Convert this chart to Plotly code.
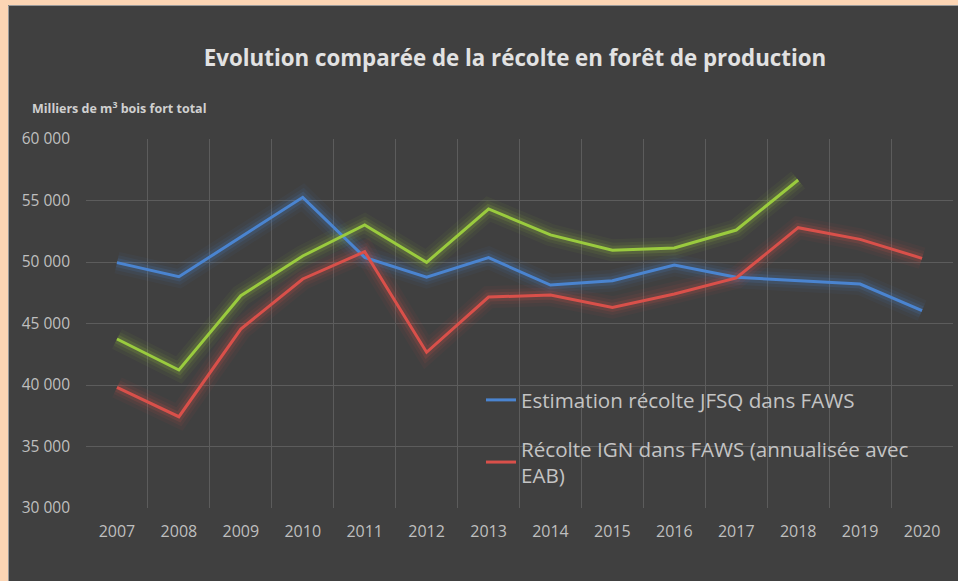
import plotly.graph_objects as go

years = ["2007", "2008", "2009", "2010", "2011", "2012", "2013", "2014",
         "2015", "2016", "2017", "2018", "2019", "2020"]
jfsq = [49950, 48800, 52030, 55260, 50380, 48760, 50350, 48130,
        48480, 49760, 48760, 48480, 48210, 46040]
ign = [39810, 37420, 44550, 48620, 50840, 42660, 47150, 47310,
       46310, 47400, 48700, 52790, 51840, 50300]
green_years = years[:12]
green_vals = [43740, 41220, 47260, 50490, 53010, 49970, 54310, 52200,
              50950, 51140, 52600, 56670]

title_text = "Evolution comparée de la récolte en forêt de production"
ylabel_text = "Milliers de m<sup>3</sup> bois fort total"
name_jfsq = "Estimation récolte JFSQ dans FAWS"
name_ign = "Récolte IGN dans FAWS (annualisée avec<br>EAB)"

BLUE = "#4A84D0"
RED = "#D9504A"
GREEN = "#9ACB3E"
FONT = "Open Sans"

fig = go.Figure()

series = [
    (years, jfsq, BLUE, name_jfsq, True, "g1"),
    (years, ign, RED, name_ign, True, "g2"),
    (green_years, green_vals, GREEN, "Récolte", False, "g3"),
]

# glow layers
for xs, ys, col, name, show, grp in series:
    for w, op in [(22, 0.05), (15, 0.08), (9, 0.15)]:
        fig.add_trace(go.Scatter(x=xs, y=ys, mode="lines",
                                 line=dict(color=col, width=w),
                                 opacity=op, showlegend=False,
                                 hoverinfo="skip", legendgroup=grp))
# main lines
for xs, ys, col, name, show, grp in series:
    fig.add_trace(go.Scatter(x=xs, y=ys, mode="lines", name=name,
                             line=dict(color=col, width=3),
                             showlegend=show, legendgroup=grp))

fig.update_layout(
    width=958, height=581,
    margin=dict(l=86, r=5, t=139, b=73),
    paper_bgcolor="#404040",
    plot_bgcolor="#404040",
    separators=", ",
    font=dict(family=FONT, color="#BFBFBF"),
    title=dict(text="<b>" + title_text + "</b>", x=515 / 958, xanchor="center",
               y=1 - 58 / 581, yanchor="middle",
               font=dict(family=FONT, size=22.3, color="#E2E2E2")),
    xaxis=dict(type="category", tickson="boundaries", showgrid=True,
               gridcolor="#5C5C5C", gridwidth=1, ticks="", zeroline=False,
               showline=False, tickfont=dict(size=16, color="#BFBFBF"),
               range=[-0.5, 13.5], ticklabelstandoff=12),
    yaxis=dict(range=[30000, 60000], dtick=5000, tick0=30000,
               tickformat=",d", showgrid=True, gridcolor="#5C5C5C",
               gridwidth=1, zeroline=False, showline=False, ticks="",
               tickfont=dict(size=15.5, color="#BFBFBF"), ticklabelstandoff=15),
    legend=dict(x=(481 - 86) / 867, y=(508 - 380) / 369, xanchor="left",
                yanchor="top", bgcolor="rgba(0,0,0,0)",
                font=dict(family=FONT, size=20.6, color="#C4C4C4"),
                tracegroupgap=19, traceorder="grouped"),
    showlegend=True,
)

# y-axis caption
fig.add_annotation(text="<b>" + ylabel_text + "</b>", xref="paper", yref="paper",
                   x=(30 - 86) / 867, y=(508 - 108) / 369, xanchor="left",
                   yanchor="middle", showarrow=False,
                   font=dict(family=FONT, size=12.5, color="#D0D0D0"))

# peach outer border (left and top strips)
PEACH = "#FCD5B4"
fig.add_shape(type="rect", xref="paper", yref="paper",
              x0=(0 - 86) / 867, x1=(8 - 86) / 867, y0=(508 - 581) / 369,
              y1=(508 - 0) / 369, fillcolor=PEACH, line=dict(width=0))
fig.add_shape(type="rect", xref="paper", yref="paper",
              x0=(0 - 86) / 867, x1=(958 - 86) / 867, y0=(508 - 5) / 369,
              y1=(508 - 0) / 369, fillcolor=PEACH, line=dict(width=0))
# thin grey chart border line
fig.add_shape(type="line", xref="paper", yref="paper",
              x0=(8.5 - 86) / 867, x1=(958 - 86) / 867, y0=(508 - 5.5) / 369,
              y1=(508 - 5.5) / 369, line=dict(color="#9A9A9A", width=1))
fig.add_shape(type="line", xref="paper", yref="paper",
              x0=(8.5 - 86) / 867, x1=(8.5 - 86) / 867, y0=(508 - 581) / 369,
              y1=(508 - 5.5) / 369, line=dict(color="#9A9A9A", width=1))

fig.write_html("out.html",
               config={"displayModeBar": False},
               post_script="document.body.style.margin='0';"
                           "document.body.style.background='#FCD5B4';")
